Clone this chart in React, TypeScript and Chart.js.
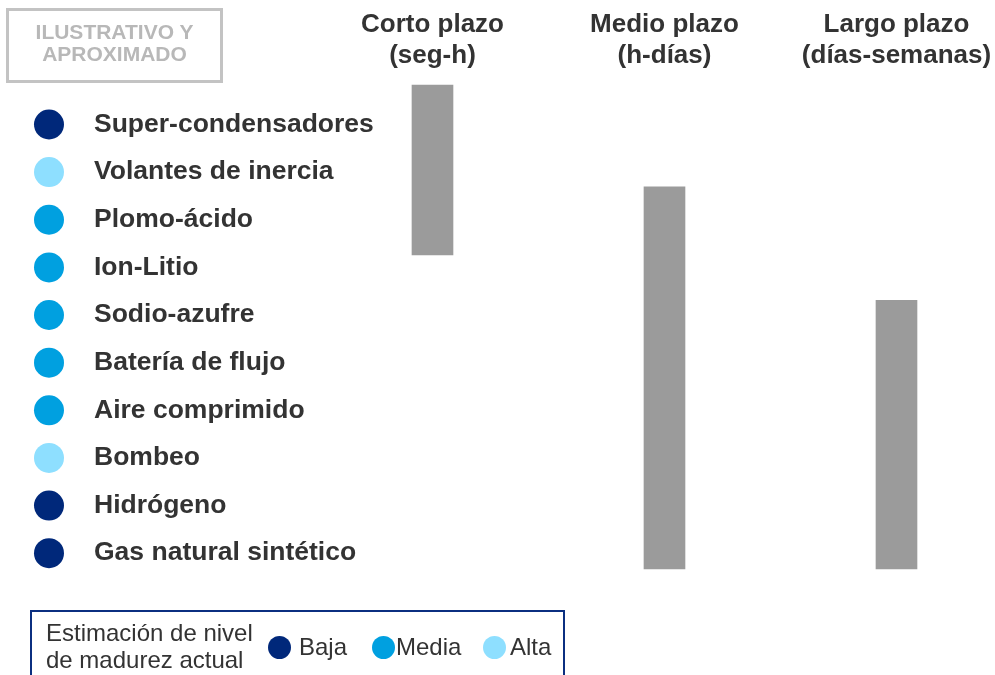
import React, { useEffect, useRef } from 'react';
import { Chart, registerables } from 'chart.js';

Chart.register(...registerables);

// ---- data ----
const technologies = [
  'Super-condensadores',
  'Volantes de inercia',
  'Plomo-ácido',
  'Ion-Litio',
  'Sodio-azufre',
  'Batería de flujo',
  'Aire comprimido',
  'Bombeo',
  'Hidrógeno',
  'Gas natural sintético',
];
const maturity = ['Baja', 'Alta', 'Media', 'Media', 'Media', 'Media', 'Media', 'Alta', 'Baja', 'Baja'];
const horizons = [
  ['Corto plazo', '(seg-h)'],
  ['Medio plazo', '(h-días)'],
  ['Largo plazo', '(días-semanas)'],
];
// range of technology rows covered by each horizon (row index units)
const horizonStart = [-0.83, 1.31, 3.69];
const horizonEnd = [2.74, 9.33, 9.33];
const maturityLevels = ['Baja', 'Media', 'Alta'];
const maturityColors: Record<string, string> = { Baja: '#00287A', Media: '#00A0E0', Alta: '#8EDFFF' };

// ---- layout constants ----
const FONT = "'Liberation Sans', Arial, Helvetica, sans-serif";
const X_MIN = -0.8642;
const X_MAX = 3.4246;
const CIRCLE_X = -0.653;
const Y_MIN = -1.144;
const Y_MAX = 11.558;

const zeroPad = (s: any) => {
  s.paddingTop = 0;
  s.paddingBottom = 0;
  s.paddingLeft = 0;
  s.paddingRight = 0;
};

export default function App() {
  const canvasRef = useRef<HTMLCanvasElement | null>(null);

  useEffect(() => {
    if (!canvasRef.current) return;
    const chart = new Chart(canvasRef.current, {
      type: 'bar',
      data: {
        datasets: [
          {
            type: 'bar',
            data: horizons.map((_, i) => ({ x: i + 1, y: [horizonStart[i], horizonEnd[i]] })) as any,
            backgroundColor: '#9B9B9B',
            borderWidth: 0,
            barThickness: 41,
            order: 2,
          } as any,
          {
            type: 'scatter',
            data: technologies.map((_, i) => ({ x: CIRCLE_X, y: i })),
            pointRadius: 15,
            pointHoverRadius: 15,
            pointBackgroundColor: maturity.map((m) => maturityColors[m]),
            pointBorderWidth: 0,
            clip: false,
            order: 1,
          } as any,
        ],
      },
      options: {
        animation: false,
        responsive: true,
        maintainAspectRatio: false,
        events: [],
        layout: { padding: 0, autoPadding: false },
        plugins: { legend: { display: false }, tooltip: { enabled: false } },
        scales: {
          x: {
            type: 'linear',
            position: 'top',
            offset: false,
            min: X_MIN,
            max: X_MAX,
            grid: { display: false, drawTicks: false },
            border: { display: false },
            afterBuildTicks: (s: any) => {
              s.ticks = horizons.map((_, i) => ({ value: i + 1 }));
            },
            afterFit: (s: any) => {
              s.height = 70;
              zeroPad(s);
            },
            ticks: {
              autoSkip: false,
              maxRotation: 0,
              minRotation: 0,
              padding: -2,
              color: '#333333',
              font: { family: FONT, size: 26, weight: 'bold', lineHeight: 1.2115 },
              callback: (_v: any, i: number) => horizons[i],
            },
          },
          y: {
            type: 'linear',
            position: 'left',
            reverse: true,
            offset: false,
            min: Y_MIN,
            max: Y_MAX,
            grid: { display: false, drawTicks: false },
            border: { display: false },
            afterBuildTicks: (s: any) => {
              s.ticks = technologies.map((_, i) => ({ value: i }));
            },
            afterFit: (s: any) => {
              s.width = 0;
              zeroPad(s);
            },
            ticks: {
              mirror: true,
              padding: 94,
              crossAlign: 'near',
              autoSkip: false,
              color: '#333333',
              font: { family: FONT, size: 26.5, weight: 'bold' },
              callback: (_v: any, i: number) => technologies[i],
            },
          },
        } as any,
      },
    });
    return () => chart.destroy();
  }, []);

  const legendX = [279.5, 383, 494];
  const legendTextX = [299, 396, 510];

  return (
    <div style={{ position: 'fixed', left: 0, top: 0, width: 995, height: 675, overflow: 'hidden', background: '#fff' }}>
      <canvas ref={canvasRef} />
      {/* ILUSTRATIVO box */}
      <div
        style={{
          position: 'absolute',
          left: 6,
          top: 8,
          width: 217,
          height: 75,
          border: '3px solid #C3C3C3',
          boxSizing: 'border-box',
        }}
      />
      <div
        style={{
          position: 'absolute',
          left: 6,
          top: 20.5,
          width: 217,
          textAlign: 'center',
          fontFamily: FONT,
          fontWeight: 'bold',
          fontSize: 21,
          lineHeight: '22.4px',
          color: '#B8B8B8',
        }}
      >
        ILUSTRATIVO Y<br />APROXIMADO
      </div>
      {/* maturity legend */}
      <div
        style={{
          position: 'absolute',
          left: 30,
          top: 610,
          width: 535,
          height: 90,
          border: '2px solid #0B2F80',
          boxSizing: 'border-box',
        }}
      />
      <div
        style={{
          position: 'absolute',
          left: 46,
          top: 618.6,
          fontFamily: FONT,
          fontSize: 24,
          lineHeight: '27.5px',
          color: '#333333',
          whiteSpace: 'nowrap',
        }}
      >
        Estimación de nivel<br />de madurez actual
      </div>
      {maturityLevels.map((lvl, i) => (
        <React.Fragment key={lvl}>
          <div
            style={{
              position: 'absolute',
              left: legendX[i] - 11.5,
              top: 647.5 - 11.5,
              width: 23,
              height: 23,
              borderRadius: '50%',
              background: maturityColors[lvl],
            }}
          />
          <div
            style={{
              position: 'absolute',
              left: legendTextX[i],
              top: 632.9,
              fontFamily: FONT,
              fontSize: 24,
              lineHeight: '27.5px',
              color: '#333333',
              whiteSpace: 'nowrap',
            }}
          >
            {lvl}
          </div>
        </React.Fragment>
      ))}
    </div>
  );
}
